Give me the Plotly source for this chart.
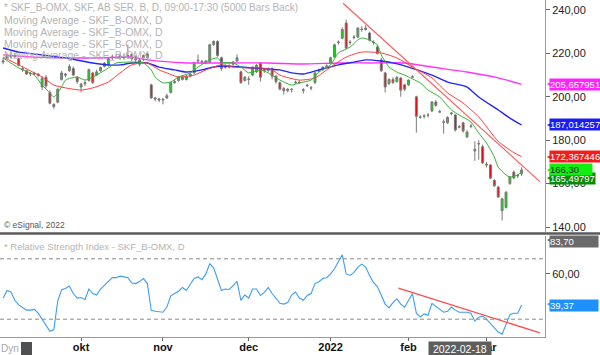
import plotly.graph_objects as go

# ---------------- data ----------------
bar_idx = list(range(134))
opens = [216.0,218.0,219.0,218.5,217.5,213.0,212.0,210.5,210.8,210.5,
         204.5,209.0,202.0,196.5,197.5,208.0,210.5,212.0,213.0,209.0,
         204.5,206.0,207.5,211.0,210.0,212.0,214.0,214.5,218.0,218.3,
         219.0,218.0,219.0,219.5,217.0,215.0,219.0,218.0,205.5,199.5,
         199.0,198.5,199.5,202.0,206.5,207.5,209.0,208.0,209.5,211.0,
         216.5,216.0,215.5,216.0,224.0,225.5,218.0,213.5,214.0,215.0,
         216.5,211.5,207.5,208.0,210.0,211.5,215.5,212.0,212.5,213.0,
         209.5,206.5,203.8,202.8,203.5,206.5,206.8,203.2,205.0,204.2,
         206.5,211.8,212.5,214.0,215.5,218.3,225.0,227.0,234.0,225.0,
         227.3,227.5,231.2,231.0,229.4,225.2,223.0,217.0,211.0,206.0,
         208.0,207.0,208.7,205.5,205.5,209.0,200.0,190.5,191.0,191.5,
         193.5,197.6,193.2,188.5,188.0,192.3,191.6,186.0,188.0,181.5,
         186.3,175.0,178.5,177.0,169.0,168.6,161.5,158.4,147.5,149.0,
         160.0,165.3,163.8,164.5]
highs = [218.0,220.0,220.0,220.0,218.0,214.0,212.5,211.5,211.5,211.0,
         209.5,210.0,203.0,197.0,204.0,212.0,211.0,215.0,214.0,209.5,
         206.5,207.5,213.0,211.5,212.5,214.0,216.0,218.0,219.5,219.5,
         220.0,220.0,224.0,220.0,219.0,217.5,219.5,220.5,206.0,200.0,
         199.5,199.5,201.5,207.0,208.0,209.5,210.0,210.0,211.0,216.0,
         219.5,217.0,217.0,224.5,226.0,226.0,218.5,215.0,215.0,216.5,
         219.5,212.0,209.5,209.5,214.0,215.0,216.0,213.0,213.5,213.5,
         210.0,207.0,204.5,204.0,204.0,207.5,207.5,204.0,206.0,205.0,
         211.5,213.0,214.0,215.0,218.5,224.5,226.0,232.0,235.5,226.0,
         228.5,232.0,232.5,233.0,230.0,226.0,224.0,218.0,211.5,208.5,
         209.0,209.5,209.0,206.0,208.0,210.0,200.5,191.5,192.0,192.5,
         198.0,198.5,194.0,189.5,191.0,193.0,192.0,187.0,188.5,184.5,
         187.5,179.5,180.0,178.0,170.0,169.0,162.0,159.0,153.5,156.5,
         163.5,166.0,164.5,167.5]
lows = [215.0,217.5,217.5,218.0,214.0,211.5,210.0,209.5,210.0,209.0,
        203.0,204.0,196.5,194.5,197.0,207.5,209.0,211.5,209.5,206.0,
        202.0,205.0,207.0,206.0,209.5,211.5,213.5,214.0,217.0,217.5,
        217.0,217.0,217.5,216.5,216.0,214.0,216.5,217.5,199.0,198.0,
        197.5,196.5,199.0,201.5,206.0,207.0,207.5,207.5,209.0,210.5,
        215.5,215.0,215.0,215.5,223.5,218.5,212.0,213.0,213.0,214.5,
        216.0,206.0,207.0,205.5,209.5,211.0,207.0,211.0,211.5,208.0,
        206.0,203.0,201.0,202.0,202.0,206.0,206.0,201.5,204.5,203.0,
        206.0,211.5,212.0,213.5,215.0,218.0,224.0,226.5,222.0,224.0,
        226.5,227.0,230.0,230.5,225.5,224.0,219.5,211.5,202.0,205.5,
        206.0,206.5,200.0,202.5,205.0,208.5,183.5,190.0,190.0,190.5,
        193.0,195.5,192.5,183.0,187.5,191.5,184.0,185.5,183.5,181.0,
        185.5,170.5,171.0,169.0,167.5,162.0,158.5,153.5,143.0,148.5,
        159.5,162.0,162.5,163.5]
closes = [216.5,219.0,218.5,219.0,214.5,212.5,210.5,210.8,210.5,210.0,
          208.5,205.0,197.0,195.5,203.5,211.0,210.0,214.0,210.0,207.0,
          205.8,206.5,212.5,206.5,211.5,213.5,215.5,217.5,218.3,218.0,
          218.0,218.5,218.8,217.5,218.5,217.0,218.0,219.8,199.5,199.0,
          198.5,198.8,200.5,206.5,207.0,209.0,208.0,209.5,210.5,215.5,
          216.8,216.3,216.5,224.0,225.5,219.0,213.0,214.0,213.7,216.0,
          218.0,206.5,209.0,208.2,213.7,214.5,209.0,212.3,212.2,209.5,
          207.0,203.5,202.8,203.5,203.3,206.7,206.5,203.0,205.3,204.0,
          211.0,212.2,213.7,214.2,218.0,224.0,225.2,231.0,222.5,225.2,
          227.5,231.7,231.0,231.7,226.0,225.0,220.0,212.0,204.5,208.0,
          206.5,209.0,203.0,203.5,207.7,209.2,191.0,190.7,191.2,191.6,
          197.6,196.0,193.0,188.3,190.5,192.5,184.7,186.2,184.3,183.8,
          186.5,175.8,178.3,169.5,168.6,162.5,159.0,153.8,153.0,156.0,
          163.0,162.6,163.6,166.3]

ma_green_idx = [0,4,8,10,12,13,15,16,19,21,24,27,29,32,34,36,38,39,41,43,45,48,50,53,55,56,59,61,63,66,68,71,74,76,79,81,84,86,89,91,92,94,96,97,99,101,103,104,107,109,112,115,117,120,122,124,126,127,129,130,132,133]
ma_green = [217.9,213.3,210.0,205.4,201.8,199.9,204.5,207.7,209.1,207.7,210.0,213.3,215.6,216.0,216.0,215.6,212.4,209.1,206.4,206.8,209.1,211.0,213.7,217.0,217.9,216.0,215.6,213.7,211.0,212.4,211.0,207.7,205.4,206.4,207.7,211.4,214.7,220.2,222.9,226.2,227.1,226.2,223.9,219.3,213.7,211.4,210.0,209.1,206.4,203.1,199.9,193.9,191.6,188.4,183.3,178.7,172.3,167.6,164.0,163.0,164.0,165.5]

ma_red_idx = [0,4,10,13,16,20,23,27,30,33,37,40,42,45,49,52,56,59,63,66,69,71,76,80,84,88,92,97,101,105,110,114,118,122,127,131,133]
ma_red = [218.3,214.7,209.1,205.4,204.1,203.1,204.1,206.8,211.0,214.7,215.6,212.4,211.0,209.1,210.0,212.4,214.7,213.7,213.3,213.3,212.4,210.0,207.7,208.7,213.7,218.3,220.6,220.2,217.9,213.7,208.7,201.8,197.1,190.7,179.5,174.3,172.4]

ma_blue_idx = [0,4,10,16,23,27,30,33,37,40,44,47,51,54,57,61,64,68,71,74,77,81,86,90,93,97,100,104,110,114,119,122,127,130,133]
ma_blue = [222.5,220.6,219.3,217.9,215.6,214.7,214.7,215.6,215.6,213.7,212.4,211.4,212.4,213.7,214.2,213.7,213.3,212.8,212.4,211.0,210.5,212.4,214.7,216.0,217.0,216.5,215.6,213.7,210.0,206.8,204.5,199.9,193.9,190.2,187.0]

ma_mag_idx = [0,8,16,25,33,37,47,57,68,77,86,94,103,110,119,127,133]
ma_mag = [219.3,218.3,217.9,217.9,218.3,217.0,215.6,215.6,215.6,215.1,215.6,215.6,215.6,213.7,211.4,208.7,205.7]

rsi = [44,49,48,42.5,39.5,37.5,36,36,36.5,34,30,26,22,23,42,49.5,50.3,52,47,44,
       44.4,43,50,47,46,50,52.5,55.6,57.5,57.5,58.5,58,57.5,54,53.6,54.9,56.9,53.6,35.9,35.2,
       34.8,34.6,38,45.5,47,48.5,51,49,53,57,58,56.2,60,66.7,64,57,49,50,49.7,52.3,
       55,42.5,46,44,50,50,45.7,47.7,51,47,44,40.5,40,41,46,48,44,42.5,45.7,47,
       53.6,54.8,56.9,57.5,60,63.4,68,72.6,60,59,61,64.5,66.5,64.5,59,54.3,51.6,46,40,37.5,
       41,43.5,40,37.9,42,47,34,31.5,33.5,32.6,40.5,38.5,36.5,34.6,35.2,38,36,34.6,34.6,34.6,
       34,28.7,31.3,32,30,27,24,21.5,20,26.5,33,33.9,34,39.37]

price_trend_idx = [87.2, 137.7]
price_trend_val = [243.1, 160.9]
rsi_trend_idx = [101.4, 137.7]
rsi_trend_val = [50.5, 21.0]

month_idx = [20, 41, 63, 84, 104, 124]
month_lbl = ["okt", "nov", "dec", "2022", "feb", "mar"]
price_ticks = [140, 160, 180, 200, 220, 240]
rsi_ticks = [60]

# ---------------- figure ----------------
FONT = "Arial, Liberation Sans, sans-serif"
fig = go.Figure()

fig.add_trace(go.Candlestick(
    x=bar_idx, open=opens, high=highs, low=lows, close=closes,
    increasing=dict(line=dict(color="#7a7a7a", width=1), fillcolor="#00e000"),
    decreasing=dict(line=dict(color="#7a7a7a", width=1), fillcolor="#f00000"),
    whiskerwidth=0, showlegend=False, hoverinfo="skip", xaxis="x", yaxis="y"))

for xs, ys, col, w in [(ma_mag_idx, ma_mag, "#ff33ff", 1.4),
                       (ma_blue_idx, ma_blue, "#2424ff", 1.4),
                       (ma_red_idx, ma_red, "#ff3a3a", 1.0),
                       (ma_green_idx, ma_green, "#36b036", 1.0)]:
    fig.add_trace(go.Scatter(x=xs, y=ys, mode="lines", line=dict(color=col, width=w, shape="spline", smoothing=0.6),
                             showlegend=False, hoverinfo="skip", xaxis="x", yaxis="y"))

fig.add_trace(go.Scatter(x=price_trend_idx, y=price_trend_val, mode="lines",
                         line=dict(color="#ff5c5c", width=1.2), showlegend=False,
                         hoverinfo="skip", xaxis="x", yaxis="y"))

fig.add_trace(go.Scatter(x=bar_idx, y=rsi, mode="lines", line=dict(color="#3d9df5", width=1.1),
                         showlegend=False, hoverinfo="skip", xaxis="x2", yaxis="y2"))
fig.add_trace(go.Scatter(x=rsi_trend_idx, y=rsi_trend_val, mode="lines",
                         line=dict(color="#ff4a4a", width=1.3), showlegend=False,
                         hoverinfo="skip", xaxis="x2", yaxis="y2"))

H_PLOT = 337.0
main_dom = [1 - 232 / H_PLOT, 1.0]
rsi_dom = [0.0, 1 - 236 / H_PLOT]

fig.update_layout(
    width=600, height=355,
    margin=dict(l=0, r=55, t=0, b=18),
    paper_bgcolor="white", plot_bgcolor="white",
    separators=",.",
    font=dict(family=FONT, size=11, color="#222"),
    xaxis=dict(domain=[0, 1], anchor="y", range=[-0.8, 139], showticklabels=False,
               showgrid=False, zeroline=False, showline=False, ticks="",
               rangeslider=dict(visible=False), fixedrange=True),
    xaxis2=dict(domain=[0, 1], anchor="y2", matches="x", range=[-0.8, 139],
                tickmode="array", tickvals=month_idx, ticktext=month_lbl,
                ticks="outside", ticklen=3, tickcolor="#666", ticklabelstandoff=-3,
                tickfont=dict(family=FONT, size=11, color="#111", weight="bold"),
                showline=True, linecolor="#9a9a9a", linewidth=1,
                showgrid=False, zeroline=False),
    yaxis=dict(domain=main_dom, anchor="x", side="right", range=[137.7, 244.6],
               tickmode="array", tickvals=price_ticks, tickformat=".2f",
               ticks="outside", ticklen=4, tickcolor="#666",
               tickfont=dict(family=FONT, size=11, color="#222"),
               showline=True, linecolor="#9a9a9a", linewidth=1,
               showgrid=False, zeroline=False),
    yaxis2=dict(domain=rsi_dom, anchor="x2", side="right", range=[18.2, 85.1],
                tickmode="array", tickvals=rsi_ticks, tickformat=".2f",
                ticks="outside", ticklen=4, tickcolor="#666",
                tickfont=dict(family=FONT, size=11, color="#222"),
                showline=True, linecolor="#9a9a9a", linewidth=1,
                showgrid=False, zeroline=False),
)

shapes = []
for lvl in (70, 30):
    shapes.append(dict(type="line", xref="x2 domain", yref="y2", x0=0, x1=1, y0=lvl, y1=lvl,
                       line=dict(color="#8a8a8a", width=1, dash="4px,3px")))
sep_y = 1 - 233.5 / H_PLOT
shapes.append(dict(type="line", xref="paper", yref="paper", x0=0, x1=1.101, y0=sep_y, y1=sep_y,
                   line=dict(color="#5a5a5a", width=2.5)))
shapes.append(dict(type="rect", xref="paper", yref="paper", x0=21 / 545, x1=32 / 545,
                   y0=-18 / H_PLOT, y1=-5 / H_PLOT, fillcolor="#505050", line=dict(width=0)))
fig.update_layout(shapes=shapes)

ann = []
def txt(x, y, s, size=10, color="#b4b4b4", xref="paper", yref="paper", **kw):
    ann.append(dict(x=x, y=y, xref=xref, yref=yref, text=s, showarrow=False,
                    xanchor=kw.pop("xanchor", "left"), yanchor=kw.pop("yanchor", "middle"),
                    font=dict(family=FONT, size=size, color=color), **kw))

def py(px):
    return 1 - px / H_PLOT

txt(0.004, py(7), "* SKF_B-OMX, SKF, AB SER. B, D, 09:00-17:30 (5000 Bars Back)", 10)
for yy in [20, 32, 44, 55.5]:
    txt(0.004, py(yy), "Moving Average - SKF_B-OMX, D", 10.5)
txt(0.004, py(225.5), "© eSignal, 2022", 8.5, "#555555")
txt(0.004, py(246), "* Relative Strength Index - SKF_B-OMX, D", 9.5)
txt(-0.002, py(349), "Dyn", 10, "#a8a8a8")

def tag(val, label, bg, fg="white", yref="y", yshift=0):
    ann.append(dict(x=1.0, y=val, xref="paper", yref=yref, text="▶", showarrow=False,
                    xanchor="left", yanchor="middle", xshift=-1, yshift=yshift,
                    textangle=180, font=dict(family="DejaVu Sans", size=8, color=bg)))
    ann.append(dict(x=1.0, y=val, xref="paper", yref=yref, text=label, showarrow=False,
                    xanchor="left", yanchor="middle", xshift=4, yshift=yshift,
                    bgcolor=bg, borderpad=0, font=dict(family=FONT, size=9.5, color=fg)))

tag(205.657951, "205,657951", "#ff22ff")
tag(187.014257, "187,014257", "#1c1cf0")
tag(172.367446, "172,367446", "#f21e1e")
tag(165.49797, "165,49797", "#0a8a0a", yshift=-7)
tag(166.30, "166,30     ", "#11ee11", fg="#113311")
tag(83.70, "83,70         ", "#6a6a6a", yref="y2", yshift=-3)
tag(39.37, "39,37         ", "#1e90ff", yref="y2")

ann.append(dict(x=117.3, y=py(349), xref="x2", yref="paper", text=" 2022-02-18 ", showarrow=False,
                xanchor="center", yanchor="middle", bgcolor="#5e5e5e", borderpad=1,
                font=dict(family=FONT, size=10.5, color="white")))
fig.update_layout(annotations=ann)

fig.write_html("out.html", config={"displayModeBar": False, "staticPlot": True},
               post_script="document.body.style.margin='0';document.body.style.padding='0';")
